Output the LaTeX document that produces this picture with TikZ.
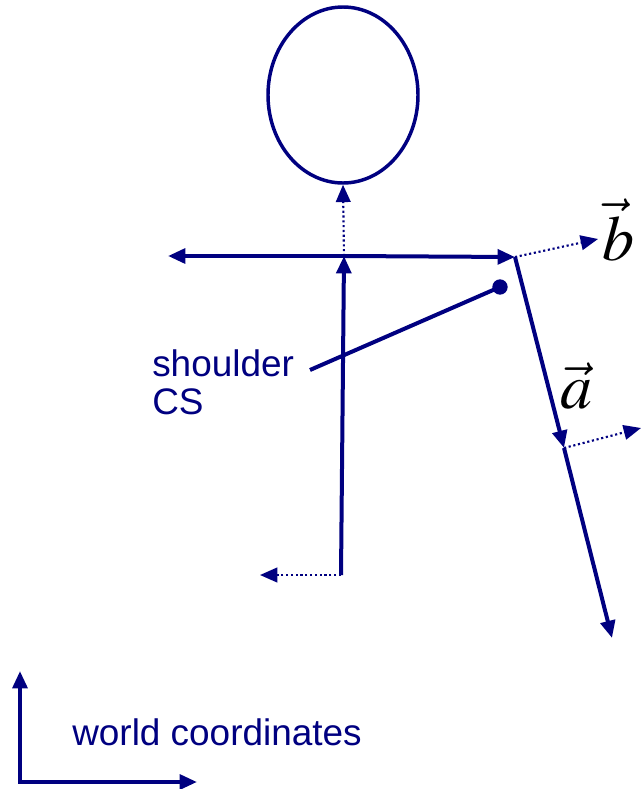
\documentclass[tikz,border=0pt]{standalone}
\usepackage{mathptmx}
\usepackage{fontspec}
\setmainfont{Liberation Sans}
\usepackage{tikz}
\usetikzlibrary{arrows.meta,shapes.geometric}
\definecolor{stick}{RGB}{0,0,128}
\tikzset{
  limb/.style={draw=stick, line width=3pt},
  axis/.style={-{Triangle[length=13pt,width=11pt]}, draw=stick, line width=3pt},
  frame/.style={-{Triangle[length=13pt,width=11pt]}, draw=stick, line width=1.6pt, dotted},
  lbl/.style={text=stick, font=\fontsize{27.7}{28.5}\selectfont, inner sep=0pt, align=left},
  vlbl/.style={font=\fontsize{48}{50}\selectfont, inner sep=0pt}
}

\begin{document}
\begin{tikzpicture}[x=0.75pt, y=-0.75pt]
\useasboundingbox (0,0) rectangle (641,789);
% body
\node[ellipse, draw=stick, line width=2.6pt, minimum width=112.5pt, minimum height=132pt, inner sep=0pt] (head) at (343,95) {};
\coordinate (neck) at (344,256);
\coordinate (hip) at (341,575);
\coordinate (lsh) at (168,256);
\coordinate (rsh) at (515,257);
\coordinate (elbow) at (564,448);
\coordinate (hand) at (612,638);
\draw[axis] (hip) -- (neck);
\draw[axis] (neck) -- (lsh);
\draw[axis] (neck) -- (rsh);
\draw[axis] (rsh) -- (elbow);
\draw[axis] (elbow) -- (hand);
% local frames
\coordinate (hipx) at (260,575);
\coordinate (bx) at (598,239);
\coordinate (ax) at (641,428);
\draw[frame] (neck) -- (head.south);
\draw[frame] (hip) -- (hipx);
\draw[frame] (rsh) -- (bx);
\draw[frame] (elbow) -- (ax);
\node[vlbl, anchor=west] (b) at (602,230) {$\vec{b}$};
\node[vlbl] (a) at (576,386) {$\vec{a}$};
% shoulder CS
\node[circle, fill=stick, inner sep=0pt, minimum size=11.5pt] (joint) at (500,287) {};
\node[lbl, anchor=north west] (cs) at (152,349) {shoulder\\CS};
\coordinate (cslink) at (310,370);
\draw[limb] (cslink) -- (joint.center);
% world coordinates
\coordinate (origin) at (20,782);
\coordinate (wy) at (20,671);
\coordinate (wx) at (197,782);
\draw[axis, line cap=rect] (origin) -- (wy);
\draw[axis, line cap=rect] (origin) -- (wx);
\node[lbl, anchor=base west] (world) at (72,745) {world coordinates};
\end{tikzpicture}
\end{document}
